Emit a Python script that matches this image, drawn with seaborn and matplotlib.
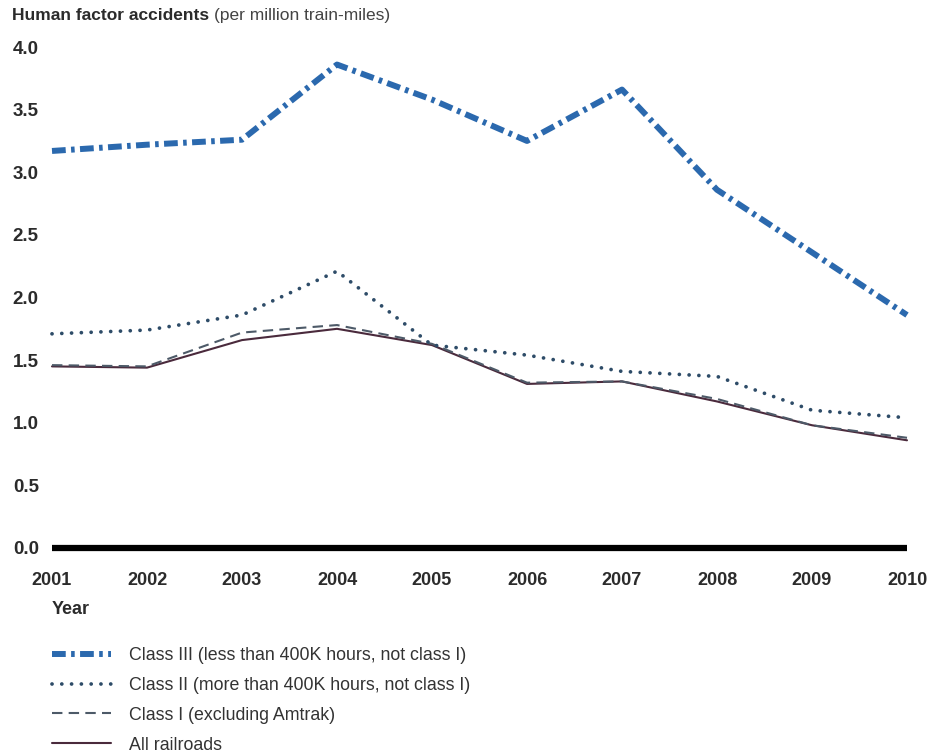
import matplotlib
matplotlib.use("Agg")
import matplotlib.pyplot as plt
import pandas as pd
import seaborn as sns

# values
years = [2001, 2002, 2003, 2004, 2005, 2006, 2007, 2008, 2009, 2010]
class_iii = [3.17, 3.22, 3.26, 3.86, 3.58, 3.25, 3.66, 2.86, 2.36, 1.86]
class_ii = [1.71, 1.74, 1.86, 2.21, 1.62, 1.54, 1.41, 1.37, 1.10, 1.04]
class_i = [1.46, 1.45, 1.72, 1.78, 1.63, 1.32, 1.33, 1.19, 0.98, 0.88]
all_railroads = [1.45, 1.44, 1.66, 1.75, 1.62, 1.31, 1.33, 1.17, 0.98, 0.86]

labels = [
    "Class III (less than 400K hours, not class I)",
    "Class II (more than 400K hours, not class I)",
    "Class I (excluding Amtrak)",
    "All railroads",
]
y_ticks = [0.0, 0.5, 1.0, 1.5, 2.0, 2.5, 3.0, 3.5, 4.0]

sns.set_theme(style="white")
plt.rcParams["font.family"] = ["Liberation Sans", "DejaVu Sans"]
text_color = "#2b2b2b"

fig = plt.figure(figsize=(9.29, 7.56), dpi=100)
ax = fig.add_axes([52 / 929, 1 - 548 / 756, 855 / 929, 501 / 756])

styles = {
    labels[3]: dict(color="#4a2a3c", linewidth=1.5, linestyle="-"),
    labels[2]: dict(color="#4d5a68", linewidth=1.5, linestyle=(0, (5, 3))),
    labels[1]: dict(color="#2e4c68", linewidth=2.7, linestyle=(0, (0.01, 2.6)),
                    dash_capstyle="round"),
    labels[0]: dict(color="#2b69ae", linewidth=4.3, linestyle=(0, (2.3, 0.9, 0.6, 0.9)),
                    dash_capstyle="butt"),
}
series = {labels[0]: class_iii, labels[1]: class_ii, labels[2]: class_i, labels[3]: all_railroads}

for name in [labels[3], labels[2], labels[1], labels[0]]:
    df = pd.DataFrame({"Year": years, "Rate": series[name]})
    sns.lineplot(data=df, x="Year", y="Rate", ax=ax, label=name, clip_on=False, **styles[name])

ax.set_xlim(2001, 2010)
ax.set_ylim(0, 4.0)
ax.set_xticks(years)
ax.set_xticklabels([str(y) for y in years], fontsize=13, fontweight="bold", color=text_color)
ax.set_yticks(y_ticks)
ax.set_yticklabels([f"{v:.1f}" for v in y_ticks], fontsize=13.5, fontweight="bold", color=text_color)
ax.tick_params(axis="both", length=0)
ax.tick_params(axis="x", pad=17)
ax.tick_params(axis="y", pad=9.5)
for s in ["top", "right", "left"]:
    ax.spines[s].set_visible(False)
ax.spines["bottom"].set_linewidth(4.5)
ax.spines["bottom"].set_color("black")
ax.spines["bottom"].set_capstyle("butt")
ax.grid(False)
ax.set_ylabel("")
ax.set_xlabel("Year", loc="left", fontsize=13, fontweight="bold", color=text_color, labelpad=9)

# legend below the chart, in the reference order
handles, hl = ax.get_legend_handles_labels()
lookup = dict(zip(hl, handles))
leg = ax.legend([lookup[l] for l in labels], labels, loc="upper left",
                bbox_to_anchor=(45 / 929, 1 - 640 / 756), bbox_transform=fig.transFigure,
                frameon=False, fontsize=12.8, handlelength=3.3, handletextpad=1.0,
                labelspacing=0.72, borderaxespad=0)
for t in leg.get_texts():
    t.set_color("#333333")

# title: bold part then normal part
t1 = fig.text(12 / 929, 1 - 8 / 756, "Human factor accidents", fontsize=12.5,
              fontweight="bold", color=text_color, va="top", ha="left")
fig.canvas.draw()
bb = t1.get_window_extent().transformed(fig.transFigure.inverted())
fig.text(bb.x1 + 5 / 929, 1 - 8 / 756, "(per million train-miles)", fontsize=12.5,
         color="#444444", va="top", ha="left")

fig.savefig("out.png", dpi=100)
